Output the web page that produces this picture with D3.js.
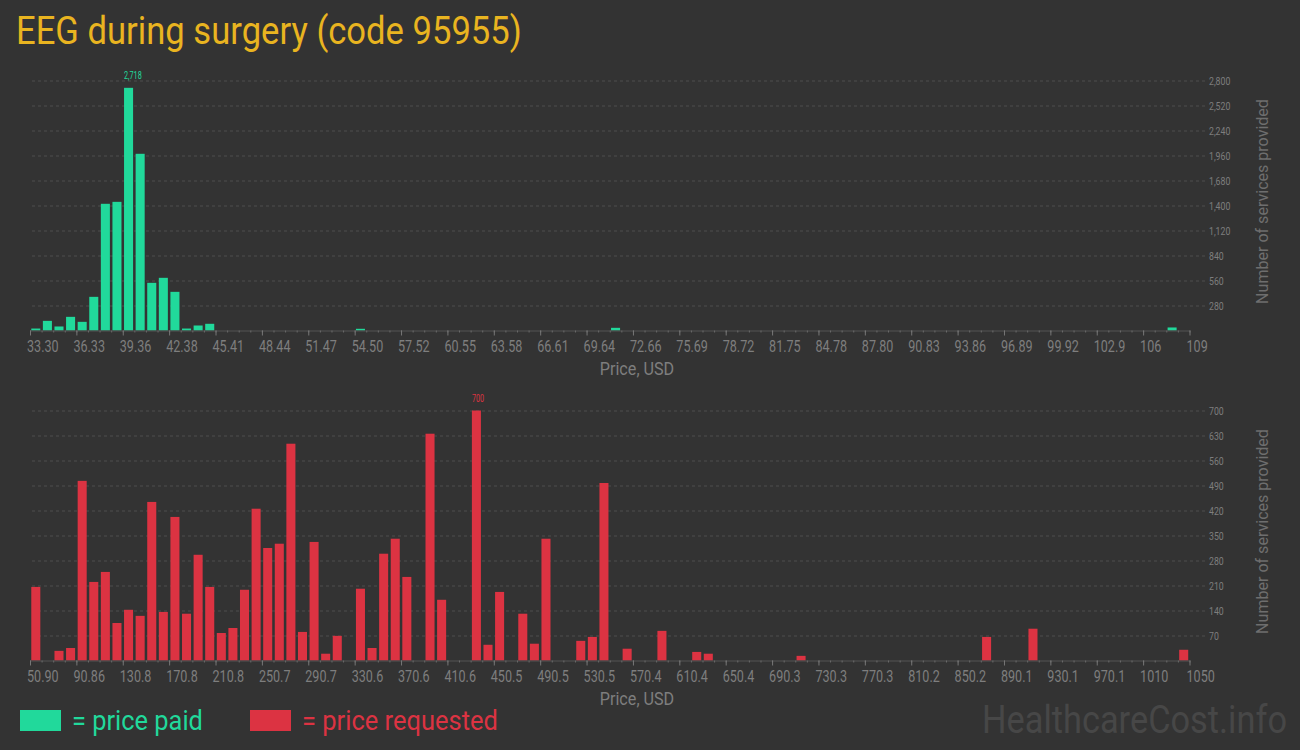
<!DOCTYPE html>
<html>
<head>
<meta charset="utf-8">
<script src="https://cdn.jsdelivr.net/npm/d3@7/dist/d3.min.js"></script>
<style>
  html, body { margin: 0; padding: 0; background: #333333; }
  svg { display: block; font-family: Roboto, "Noto Sans", sans-serif; }
</style>
</head>
<body>
<svg id="chart" width="1300" height="750"></svg>
<script>
// ---------- data ----------
const titleText = "EEG during surgery (code 95955)";

const paidTickLabels = ["33.30","36.33","39.36","42.38","45.41","48.44","51.47","54.50","57.52","60.55",
  "63.58","66.61","69.64","72.66","75.69","78.72","81.75","84.78","87.80","90.83","93.86","96.89",
  "99.92","102.9","106","109"];
const paidDomain = [33.30, 109];
const paidCounts = [
  22,108,45,153,97,377,1419,1441,2718,1979,
  534,590,433,22,56,75,0,0,0,0,
  0,0,0,0,0,0,0,0,19,0,
  0,0,0,0,0,0,0,0,0,0,
  0,0,0,0,0,0,0,0,0,0,
  30,0,0,0,0,0,0,0,0,0,
  0,0,0,0,0,0,0,0,0,0,
  0,0,0,0,0,0,0,0,0,0,
  0,0,0,0,0,0,0,0,0,0,
  0,0,0,0,0,0,0,0,34,0
];
const paidYTicks = [280,560,840,1120,1400,1680,1960,2240,2520,2800];

const reqTickLabels = ["50.90","90.86","130.8","170.8","210.8","250.7","290.7","330.6","370.6","410.6",
  "450.5","490.5","530.5","570.4","610.4","650.4","690.3","730.3","770.3","810.2","850.2","890.1",
  "930.1","970.1","1010","1050"];
const reqDomain = [50.90, 1050];
const reqCounts = [
  206,0,27,35,503,220,248,105,142,125,
  444,136,402,131,296,206,77,91,198,425,
  315,327,607,80,332,19,69,0,201,35,
  299,341,234,0,635,170,0,0,700,44,
  192,0,131,47,341,0,0,55,66,497,
  0,33,0,0,83,0,0,24,19,0,
  0,0,0,0,0,0,13,0,0,0,
  0,0,0,0,0,0,0,0,0,0,
  0,0,66,0,0,0,89,0,0,0,
  0,0,0,0,0,0,0,0,0,30
];
const reqYTicks = [70,140,210,280,350,420,490,560,630,700];

const legendLabels = ["= price paid", "= price requested"];
const yTitle = "Number of services provided";
const xTitle = "Price, USD";
const watermark = "HealthcareCost.info";

// ---------- style ----------
const GREEN = "#21d99b";
const RED = "#dc3342";
const TITLE = "#e9b420";
const AXIS_TXT = "#7e7e7e";
const GRID = "#4f4f4f";

const svg = d3.select("#chart");

function fitText(sel, targetW) {
  sel.each(function () {
    const w = this.getComputedTextLength();
    const f = targetW / w;
    const t = d3.select(this);
    const base = t.attr("data-base") || "";
    t.attr("transform", base + ` scale(${f},1)`);
  });
}

// title
svg.append("text")
  .attr("data-base", "translate(16,44)")
  .attr("font-size", 38).attr("fill", TITLE)
  .text(titleText)
  .call(fitText, 506);

function panel(cfg) {
  const x0 = 30, x1 = 1189.5;
  const g = svg.append("g");
  const n = cfg.counts.length;
  const band = d3.scaleBand().domain(d3.range(n)).range([x0, x1]).paddingInner(0.22).paddingOuter(0.11);
  const xLin = d3.scaleLinear().domain(cfg.domain).range([x0, x1]);
  const y = d3.scaleLinear().domain([0, cfg.yMax]).range([cfg.base, cfg.base - 250]);

  // grid + right axis labels
  const yAxis = d3.axisRight(y).tickValues(cfg.yTicks).tickFormat(d3.format(","))
    .tickSize(-(1205 - x0)).tickPadding(4);
  const ga = g.append("g").attr("transform", "translate(1205,0)").call(yAxis);
  ga.select(".domain").remove();
  ga.selectAll(".tick line").attr("stroke", GRID).attr("stroke-dasharray", "3,3");
  ga.selectAll(".tick text").attr("fill", AXIS_TXT).attr("font-size", 11.5)
    .attr("font-family", "Roboto")
    .attr("x", 4 / 0.76).attr("transform", "scale(0.76,1)");

  // bars
  g.append("g").selectAll("rect").data(cfg.counts).join("rect")
    .attr("x", (d, i) => band(i))
    .attr("width", band.bandwidth())
    .attr("y", d => y(d))
    .attr("height", d => cfg.base - y(d))
    .attr("fill", cfg.color);

  // max label
  const mi = d3.maxIndex(cfg.counts);
  g.append("text")
    .attr("data-base", `translate(${band(mi)},${y(cfg.counts[mi]) - 9})`)
    .attr("font-size", 11).attr("fill", cfg.color)
    .text(d3.format(",")(cfg.counts[mi]))
    .attr("transform", `translate(${band(mi)},${y(cfg.counts[mi]) - 9}) scale(0.66,1)`);

  // minor ticks
  const step = (cfg.domain[1] - cfg.domain[0]) / n;
  const minor = d3.axisBottom(xLin).tickValues(d3.range(n + 1).map(i => cfg.domain[0] + i * step))
    .tickSize(2).tickSizeOuter(0).tickFormat("");
  const gm = g.append("g").attr("transform", `translate(0,${cfg.base})`).call(minor);
  gm.select(".domain").attr("stroke", "#555");
  gm.selectAll(".tick line").attr("stroke", "#6a6a6a");

  // major ticks
  const nt = cfg.tickLabels.length;
  const tstep = (cfg.domain[1] - cfg.domain[0]) / (nt - 1);
  const major = d3.axisBottom(xLin).tickValues(d3.range(nt).map(i => cfg.domain[0] + i * tstep))
    .tickFormat((d, i) => cfg.tickLabels[i]).tickSize(5).tickSizeOuter(0);
  const gx = g.append("g").attr("transform", `translate(0,${cfg.base})`).call(major);
  gx.select(".domain").remove();
  gx.selectAll(".tick line").attr("stroke", "#777");
  gx.selectAll(".tick text").attr("fill", AXIS_TXT).attr("font-size", 17)
    .attr("font-family", "Roboto")
    .attr("text-anchor", "start").attr("dy", null).attr("y", 22)
    .attr("x", -3.5 / 0.74).attr("transform", "scale(0.74,1)");

  // x title
  g.append("text")
    .attr("data-base", `translate(637,${cfg.base + 44})`)
    .attr("font-size", 18).attr("fill", AXIS_TXT).attr("text-anchor", "middle")
    .text(xTitle).call(fitText, 74.5);

  // y title
  g.append("text")
    .attr("data-base", `translate(1267.5,${cfg.base - 129}) rotate(-90)`)
    .attr("font-size", 16).attr("fill", "#6e6e6e").attr("text-anchor", "middle")
    .text(yTitle).call(fitText, 205);
}

panel({ counts: paidCounts, domain: paidDomain, tickLabels: paidTickLabels, yTicks: paidYTicks,
        yMax: 2800, base: 330.5, color: GREEN });
panel({ counts: reqCounts, domain: reqDomain, tickLabels: reqTickLabels, yTicks: reqYTicks,
        yMax: 700, base: 660.5, color: RED });

// legend
const leg = [{ x: 20, c: GREEN, w: 131 }, { x: 250, c: RED, w: 196 }];
leg.forEach((L, i) => {
  svg.append("rect").attr("x", L.x).attr("y", 710).attr("width", 41).attr("height", 21).attr("fill", L.c);
  svg.append("text").attr("data-base", `translate(${L.x + 52},730)`)
    .attr("font-size", 28).attr("fill", L.c).text(legendLabels[i]).call(fitText, L.w);
});

// watermark
svg.append("text").attr("data-base", "translate(982,733)")
  .attr("font-size", 39).attr("fill", "#474747").text(watermark).call(fitText, 305);
</script>
</body>
</html>
